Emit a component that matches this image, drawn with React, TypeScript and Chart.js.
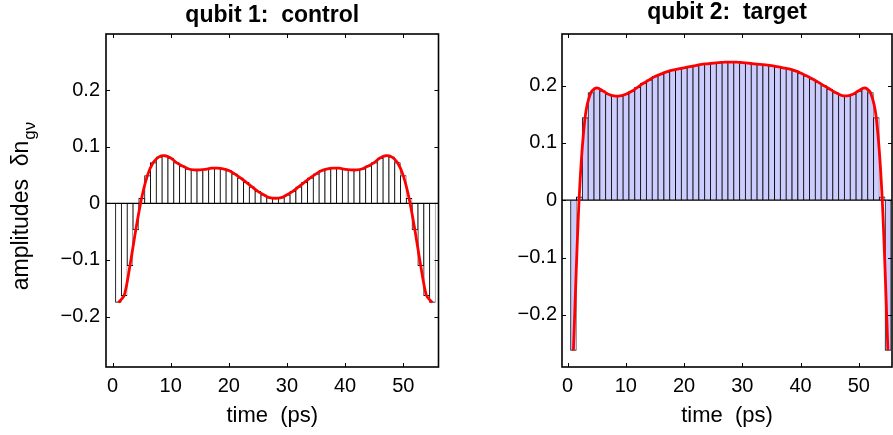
import React, { useEffect, useRef } from "react";
import { Chart, registerables } from "chart.js";

Chart.register(...registerables);

// ---- data ----
const timePs = [
  1, 2, 3, 4, 5, 6, 7, 8, 9, 10, 11, 12, 13, 14, 15, 16, 17, 18, 19, 20,
  21, 22, 23, 24, 25, 26, 27, 28, 29, 30, 31, 32, 33, 34, 35, 36, 37, 38, 39, 40,
  41, 42, 43, 44, 45, 46, 47, 48, 49, 50, 51, 52, 53, 54, 55,
];

const controlAmplitude = [
  -0.175, -0.163, -0.11, -0.047, 0.009, 0.049, 0.072, 0.082, 0.084, 0.08,
  0.072, 0.066, 0.061, 0.059, 0.059, 0.06, 0.062, 0.062, 0.061, 0.058,
  0.052, 0.045, 0.037, 0.029, 0.021, 0.015, 0.01, 0.009, 0.01, 0.015,
  0.021, 0.029, 0.037, 0.045, 0.052, 0.058, 0.061, 0.062, 0.062, 0.06,
  0.059, 0.059, 0.061, 0.066, 0.072, 0.08, 0.084, 0.082, 0.072, 0.049,
  0.009, -0.047, -0.11, -0.163, -0.175,
];

const targetAmplitude = [
  -0.262, 0.006, 0.144, 0.188, 0.196, 0.191, 0.185, 0.182, 0.182, 0.185,
  0.19, 0.197, 0.204, 0.21, 0.216, 0.22, 0.224, 0.227, 0.229, 0.231,
  0.233, 0.235, 0.237, 0.238, 0.239, 0.24, 0.241, 0.241, 0.241, 0.24,
  0.239, 0.238, 0.237, 0.236, 0.235, 0.233, 0.231, 0.229, 0.226, 0.222,
  0.217, 0.212, 0.206, 0.2, 0.194, 0.188, 0.183, 0.182, 0.185, 0.191,
  0.196, 0.188, 0.144, 0.006, -0.262,
];

const xTickValues = [0, 10, 20, 30, 40, 50];
const xTickLabels = ["0", "10", "20", "30", "40", "50"];
const yTickValues = [-0.2, -0.1, 0, 0.1, 0.2];
const yTickLabels = ["\u22120.2", "\u22120.1", "0", "0.1", "0.2"];

const controlTitle = "qubit 1:  control";
const targetTitle = "qubit 2:  target";
const xAxisTitle = "time  (ps)";
const yAxisTitleMain = "amplitudes  \u03b4n";
const yAxisTitleSub = "g\u03bd";

const FONT = "'Liberation Sans', Arial, Helvetica, sans-serif";

type PanelCfg = {
  title: string;
  titleTop: number;
  values: number[];
  fill: string;
  xMin: number;
  xMax: number;
  yMin: number;
  yMax: number;
  yWidth: number;
  yPad: number;
  padRight: number;
  showYLabel: boolean;
};

function makeChart(canvas: HTMLCanvasElement, cfg: PanelCfg) {
  const points = timePs.map((t, i) => ({ x: t, y: cfg.values[i] }));
  const TICK = 4;
  const framePlugin = {
    id: "frame",
    afterDatasetDraw(chart: any, args: any) {
      if (args.index !== 1) return;
      const { ctx, chartArea: a, scales } = chart;
      const y0 = scales.y.getPixelForValue(0);
      ctx.save();
      ctx.strokeStyle = "#000";
      ctx.lineWidth = 1.3;
      ctx.beginPath();
      ctx.moveTo(a.left, y0);
      ctx.lineTo(a.right, y0);
      ctx.stroke();
      ctx.restore();
    },
    afterDraw(chart: any) {
      const { ctx, chartArea: a, scales } = chart;
      const sx = scales.x;
      const sy = scales.y;
      ctx.save();
      ctx.strokeStyle = "#000";
      ctx.lineWidth = 1;
      ctx.beginPath();
      xTickValues.forEach((v) => {
        const px = Math.round(sx.getPixelForValue(v)) + 0.5;
        ctx.moveTo(px, a.bottom);
        ctx.lineTo(px, a.bottom - TICK);
        ctx.moveTo(px, a.top);
        ctx.lineTo(px, a.top + TICK);
      });
      yTickValues.forEach((v) => {
        const py = Math.round(sy.getPixelForValue(v)) + 0.5;
        ctx.moveTo(a.left, py);
        ctx.lineTo(a.left + TICK, py);
        ctx.moveTo(a.right, py);
        ctx.lineTo(a.right - TICK, py);
      });
      ctx.stroke();
      ctx.lineWidth = 1.6;
      ctx.strokeRect(a.left, a.top, a.right - a.left, a.bottom - a.top);

      if (cfg.showYLabel) {
        const mainFont = `23px ${FONT}`;
        const subFont = `17px ${FONT}`;
        ctx.font = mainFont;
        const wMain = ctx.measureText(yAxisTitleMain).width;
        ctx.font = subFont;
        const wSub = ctx.measureText(yAxisTitleSub).width;
        const total = wMain + wSub + 1;
        const cy = 206;
        const bx = 28;
        ctx.fillStyle = "#000";
        ctx.translate(bx, cy + total / 2);
        ctx.rotate(-Math.PI / 2);
        ctx.textAlign = "left";
        ctx.textBaseline = "alphabetic";
        ctx.font = mainFont;
        ctx.fillText(yAxisTitleMain, 0, 0);
        ctx.font = subFont;
        ctx.fillText(yAxisTitleSub, wMain + 1, 7);
      }
      ctx.restore();
    },
  };

  const titleLH = 0.8 * 23;

  return new Chart(canvas, {
    type: "bar",
    data: {
      datasets: [
        {
          type: "line",
          data: points,
          borderColor: "#ff0000",
          borderWidth: 2.8,
          pointRadius: 0,
          tension: 0.3,
          order: 0,
        } as any,
        {
          type: "bar",
          data: points,
          backgroundColor: cfg.fill,
          borderColor: "#111",
          borderWidth: { top: 1, bottom: 1, left: 1, right: 0.6 },
          borderSkipped: "start",
          barPercentage: 1,
          categoryPercentage: 1,
          order: 1,
        } as any,
      ],
    },
    options: {
      animation: false,
      responsive: false,
      maintainAspectRatio: false,
      layout: { padding: { left: 0, right: cfg.padRight, top: 0, bottom: 0 } },
      plugins: {
        legend: { display: false },
        tooltip: { enabled: false },
        title: {
          display: true,
          text: cfg.title,
          fullSize: false,
          color: "#000",
          font: { family: FONT, size: 23, weight: "bold", lineHeight: 0.8 },
          padding: { top: cfg.titleTop, bottom: 34 - titleLH - cfg.titleTop },
        },
      },
      scales: {
        x: {
          type: "linear",
          min: cfg.xMin,
          max: cfg.xMax,
          offset: false,
          bounds: "data",
          grid: { display: false, drawTicks: false, offset: false },
          border: { display: false },
          afterBuildTicks: (s: any) => {
            s.ticks = xTickValues.map((v) => ({ value: v }));
          },
          afterFit: (s: any) => {
            s.height = 68;
          },
          ticks: {
            padding: 7,
            color: "#000",
            autoSkip: false,
            maxRotation: 0,
            font: { family: FONT, size: 20 },
            callback: (_v: any, i: number) => xTickLabels[i],
          },
          title: {
            display: true,
            text: xAxisTitle,
            color: "#000",
            font: { family: FONT, size: 22, lineHeight: 1.2 },
            padding: { top: 0, bottom: 6 },
          },
        } as any,
        y: {
          type: "linear",
          min: cfg.yMin,
          max: cfg.yMax,
          bounds: "data",
          grid: { display: false, drawTicks: false },
          border: { display: false },
          afterBuildTicks: (s: any) => {
            s.ticks = yTickValues.map((v) => ({ value: v }));
          },
          afterFit: (s: any) => {
            s.width = cfg.yWidth;
          },
          ticks: {
            padding: cfg.yPad,
            color: "#000",
            autoSkip: false,
            font: { family: FONT, size: 20 },
            callback: (_v: any, i: number) => yTickLabels[i],
          },
        } as any,
      },
    },
    plugins: [framePlugin as any],
  });
}

export default function App() {
  const leftRef = useRef<HTMLCanvasElement | null>(null);
  const rightRef = useRef<HTMLCanvasElement | null>(null);

  useEffect(() => {
    if (!leftRef.current || !rightRef.current) return;
    const c1 = makeChart(leftRef.current, {
      title: controlTitle,
      titleTop: 6.5,
      values: controlAmplitude,
      fill: "#ffffff",
      xMin: -1.12,
      xMax: 56.06,
      yMin: -0.289,
      yMax: 0.299,
      yWidth: 106,
      yPad: 6,
      padRight: 11.5,
      showYLabel: true,
    });
    const c2 = makeChart(rightRef.current, {
      title: targetTitle,
      titleTop: 3,
      values: targetAmplitude,
      fill: "#ccccff",
      xMin: -0.96,
      xMax: 55.7,
      yMin: -0.291,
      yMax: 0.29,
      yWidth: 112,
      yPad: 5,
      padRight: 1,
      showYLabel: false,
    });
    return () => {
      c1.destroy();
      c2.destroy();
    };
  }, []);

  return (
    <div
      style={{
        position: "absolute",
        left: 0,
        top: 0,
        width: 893,
        height: 435,
        overflow: "hidden",
        background: "#fff",
      }}
    >
      <canvas
        ref={leftRef}
        width={450}
        height={435}
        style={{ position: "absolute", left: 0, top: 0, width: 450, height: 435 }}
      />
      <canvas
        ref={rightRef}
        width={443}
        height={435}
        style={{ position: "absolute", left: 450, top: 0, width: 443, height: 435 }}
      />
    </div>
  );
}
